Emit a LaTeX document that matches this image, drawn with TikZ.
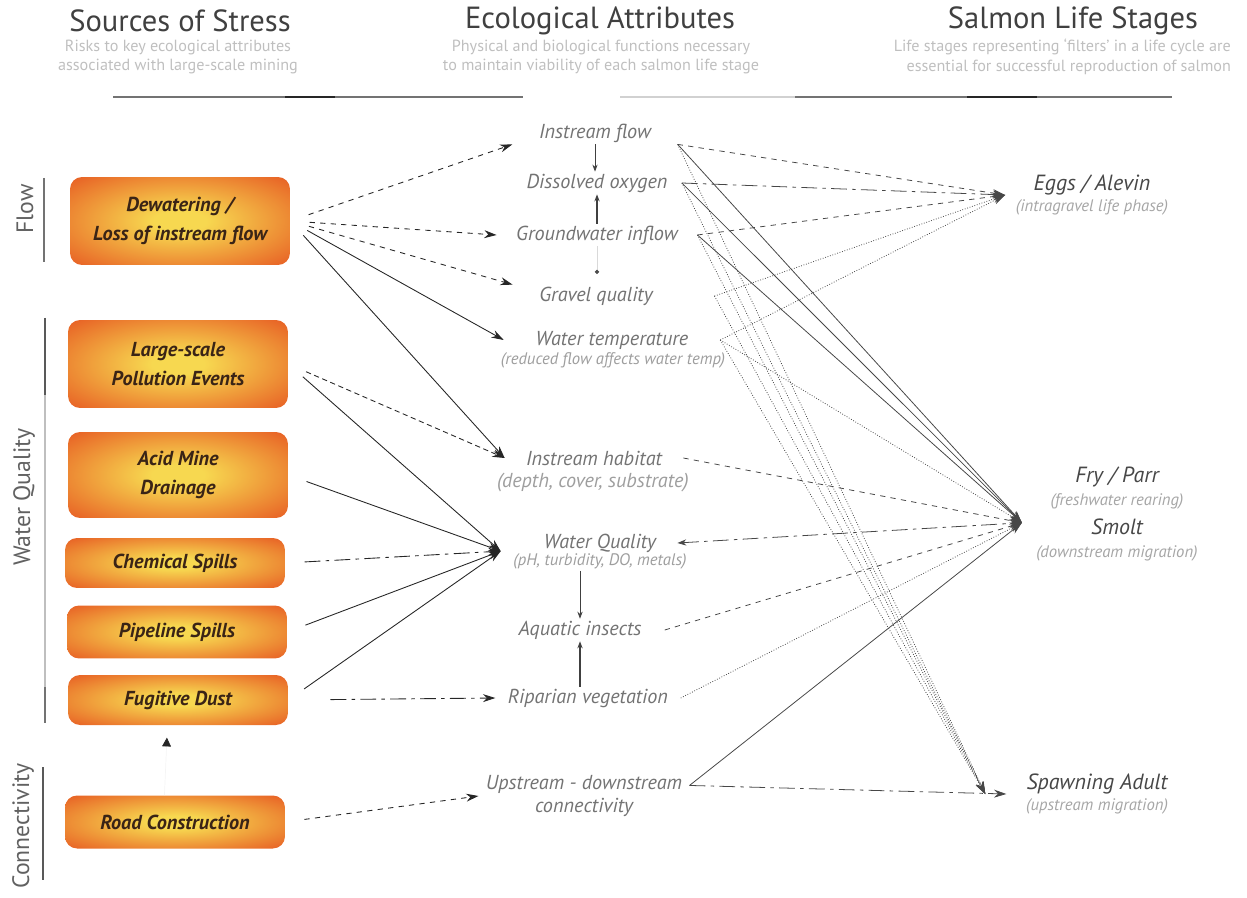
\documentclass[tikz,border=0pt]{standalone}
\usepackage{fontspec}
\setmainfont{PT Sans}
\usepackage{tikz}
\usetikzlibrary{arrows.meta, positioning}

\definecolor{stressedge}{RGB}{232,100,38}
\definecolor{stresscore}{RGB}{247,216,80}
\definecolor{stressink}{RGB}{58,36,22}
\pgfdeclareradialshading{stressglow}{\pgfpoint{0bp}{0bp}}{color(0bp)=(stresscore); color(6bp)=(stresscore); color(34bp)=(stressedge); color(50bp)=(stressedge)}

\newcommand{\lifenote}[1]{{\color{black!35}\fontsize{9.5}{11}\selectfont #1}}

\begin{document}
\begin{tikzpicture}[x=0.02cm, y=-0.02cm,
    every node/.style={inner sep=1pt},
    stressbox/.style={shade, shading=stressglow, rounded corners=0.24cm,
        minimum width=4.4cm, align=center, text=stressink, font=\fontsize{11.5}{16.5}\selectfont\bfseries\itshape},
    attr/.style={text=black!55, inner xsep=2pt, font=\fontsize{11.5}{13}\selectfont\itshape},
    attrnote/.style={text=black!38, font=\fontsize{9.5}{11}\selectfont\itshape},
    stage/.style={align=center, text=black!72, font=\fontsize{12.5}{14}\selectfont\itshape},
    heading/.style={text=black!75, font=\fontsize{17.4}{20}\selectfont},
    headnote/.style={text=black!25, align=center, font=\fontsize{9.2}{11.3}\selectfont},
    grouplabel/.style={text=black!62, rotate=90, font=\fontsize{13.5}{15}\selectfont},
    headrule/.style={black!55, line width=0.8pt},
    feed/.style={draw=black!85, line width=0.5pt, shorten <=11pt, -{Stealth[length=7pt, width=4.5pt]}},
    link/.style={draw=black!72, line width=0.45pt, -{Stealth[length=7pt, width=4.5pt]}},
    longdash/.style={dash pattern=on 9pt off 3pt on 2pt off 3pt},
    chainarrow/.style={black!75, line width=0.45pt, -{Stealth[length=4pt, width=3pt]}}
  ]
  \useasboundingbox (0,0) rectangle (1247,898);

  % Column headings
  \node[heading] (head-stress) at (180,21) {Sources of Stress};
  \node[headnote] (head-stress-note) at (178,57) {Risks to key ecological attributes\\associated with large-scale mining};
  \node[heading] (head-attr) at (600,21) {Ecological Attributes};
  \node[headnote] (head-attr-note) at (601,57) {Physical and biological functions necessary\\to maintain viability of each salmon life stage};
  \node[heading] (head-stage) at (1073,21) {Salmon Life Stages};
  \node[headnote, align=right, anchor=east] (head-stage-note) at (1233,57) {Life stages representing ‘filters’ in a life cycle are\\essential for successful reproduction of salmon};
  \draw[headrule] (113,97) -- (523,97);
  \draw[headrule, black!85] (285,97) -- (335,97);
  \draw[headrule, black!18] (620,97) -- (795,97);
  \draw[headrule] (795,97) -- (1172,97);
  \draw[headrule, black!85] (967,97) -- (1037,97);

  % Groups of stressors
  \node[grouplabel] (group-flow) at (25,209) {Flow};
  \node[grouplabel] (group-quality) at (24,497) {Water Quality};
  \node[grouplabel] (group-connect) at (23,826) {Connectivity};
  \draw[black!55, line width=0.7pt] (44,178) -- (44,262);
  \draw[black!25, line width=0.6pt] (45,318) -- (45,723);
  \draw[black!65, line width=0.7pt] (45,318) -- (45,395);
  \draw[black!55, line width=0.7pt] (45,687) -- (45,723);
  \draw[black!65, line width=0.7pt] (43,767) -- (43,880);

  % Sources of stress
  \node[stressbox, minimum height=1.76cm] (dewater) at (180,221) {Dewatering /\\Loss of instream flow};
  \node[stressbox, minimum height=1.76cm] (pollution) at (178,364) {Large-scale\\Pollution Events};
  \node[stressbox, minimum height=1.72cm] (acid) at (178,475) {Acid Mine\\Drainage};
  \node[stressbox, minimum height=1.0cm] (chemical) at (175,563) {Chemical Spills};
  \node[stressbox, minimum height=1.06cm] (pipeline) at (177,632) {Pipeline Spills};
  \node[stressbox, minimum height=1.0cm] (dust) at (178,700) {Fugitive Dust};
  \node[stressbox, minimum height=1.06cm] (road) at (175,822) {Road Construction};
  \draw[black!4, -{Triangle[length=5pt, width=5pt, color=black!85]}, shorten >=7pt] ([xshift=-6pt]road.north) -- ([xshift=-6pt]dust.south);

  % Ecological attributes
  \node[attr, inner xsep=15pt] (flow) at (595,133) {Instream flow};
  \node[attr, inner xsep=8pt] (oxygen) at (597,183) {Dissolved oxygen};
  \node[attr, inner xsep=11pt] (ground) at (597,235) {Groundwater inflow};
  \node[attr, inner xsep=15pt] (gravel) at (596,296) {Gravel quality};
  \node[attr, inner xsep=18pt] (temp) at (612,340) {Water temperature};
  \node[attrnote] (temp-note) at (613,360) {(reduced flow affects water temp)};
  \node[attr, inner xsep=12pt] (habitat) at (594,458) {Instream habitat};
  \node[attrnote, font=\fontsize{11.5}{13}\selectfont\itshape] (habitat-note) at (593,483) {(depth, cover, substrate)};
  \node[attr] (quality) at (600,543) {Water Quality};
  \node[attrnote, inner xsep=7pt] (quality-note) at (600,561) {(pH, turbidity, DO, metals)};
  \node[attr, inner xsep=13pt] (insects) at (580,630) {Aquatic insects};
  \node[attr, inner xsep=7pt] (riparian) at (588,698) {Riparian vegetation};
  \node[attr, align=center, inner xsep=4pt] (upstream) at (584,796) {Upstream - downstream\\connectivity};

  \draw[chainarrow] (flow.south) -- (flow.south |- oxygen.north);
  \draw[chainarrow, line width=1pt] (ground.north) -- (ground.north |- oxygen.south);
  \draw[black!15, line width=0.4pt, -{Circle[length=2.5pt, color=black!70]}, shorten >=6pt] (ground.south) -- (ground.south |- gravel.north);
  \draw[chainarrow] (insects.north |- quality-note.south) -- (insects.north);
  \draw[chainarrow, line width=1pt] (insects.south |- riparian.north) -- (insects.south);

  % Salmon life stages
  \node[stage, inner xsep=6pt] (eggs) at (1092,195) {Eggs / Alevin\\[-2pt]\lifenote{(intragravel life phase)}};
  \node[stage, inner xsep=8pt] (juvenile) at (1117,514) {Fry / Parr\\[-1pt]\lifenote{(freshwater rearing)}\\[3pt]Smolt\\[-1pt]\lifenote{(downstream migration)}};
  \node[stage, inner xsep=11pt] (spawning) at (1097,794) {Spawning Adult\\[-2pt]\lifenote{(upstream migration)}};
  \coordinate (juvenile-in) at ([yshift=-5pt]juvenile.west);
  \coordinate (spawning-in) at ([xshift=-12pt]spawning.west);

  % Stress -> attributes
  \draw[feed, dashed] (dewater.east) -- (flow.south west);
  \draw[feed, dashed] (dewater.east) -- (ground.west);
  \draw[feed, dashed] (dewater.east) -- (gravel.north west);
  \draw[feed] (dewater.east) -- (temp.west);
  \draw[feed] (dewater.east) -- (habitat.west);
  \draw[feed, densely dashed] (pollution.east) -- (habitat.west);
  \draw[feed] (pollution.east) -- (quality-note.north west);
  \draw[feed] (acid.east) -- (quality-note.north west);
  \draw[feed, longdash] (chemical.east) -- (quality-note.north west);
  \draw[feed] (pipeline.east) -- (quality-note.north west);
  \draw[feed] (dust.east) -- (quality-note.north west);
  \draw[feed, longdash, shorten <=24pt] (dust.east) -- (riparian.west);
  \draw[feed, dashed] (road.east) -- (upstream.west);

  % Attributes -> life stages
  \draw[link, dashed] (flow.south east) -- (eggs.west);
  \draw[link] (flow.south east) -- (juvenile-in);
  \draw[link, densely dotted] (flow.south east) -- (spawning-in);
  \draw[link, longdash] (oxygen.east) -- (eggs.west);
  \draw[link] (oxygen.east) -- (juvenile-in);
  \draw[link, densely dotted] (oxygen.east) -- (spawning-in);
  \draw[link, dashed] (ground.east) -- (eggs.west);
  \draw[link] (ground.east) -- (juvenile-in);
  \draw[link, densely dotted] (ground.east) -- (spawning-in);
  \draw[link, densely dotted] ([xshift=20pt]gravel.east) -- (eggs.west);
  \draw[link, densely dotted] ([xshift=20pt]gravel.east) -- (spawning-in);
  \draw[link, densely dotted] (temp.east) -- (eggs.west);
  \draw[link, densely dotted] (temp.east) -- (juvenile-in);
  \draw[link, densely dotted] (temp.east) -- (spawning-in);
  \draw[link, dashed] (habitat.east) -- (juvenile-in);
  \draw[link, longdash, {Stealth[length=5pt, width=3.5pt]}-{Stealth[length=7pt, width=4.5pt]}] ([xshift=10pt]quality.east) -- (juvenile-in);
  \draw[link, dashed] (insects.east) -- (juvenile-in);
  \draw[link, densely dotted] (riparian.east) -- (juvenile-in);
  \draw[link] ([yshift=6pt]upstream.east) -- (juvenile-in);
  \draw[link, longdash] ([yshift=6pt]upstream.east) -- (spawning.west);
\end{tikzpicture}
\end{document}
